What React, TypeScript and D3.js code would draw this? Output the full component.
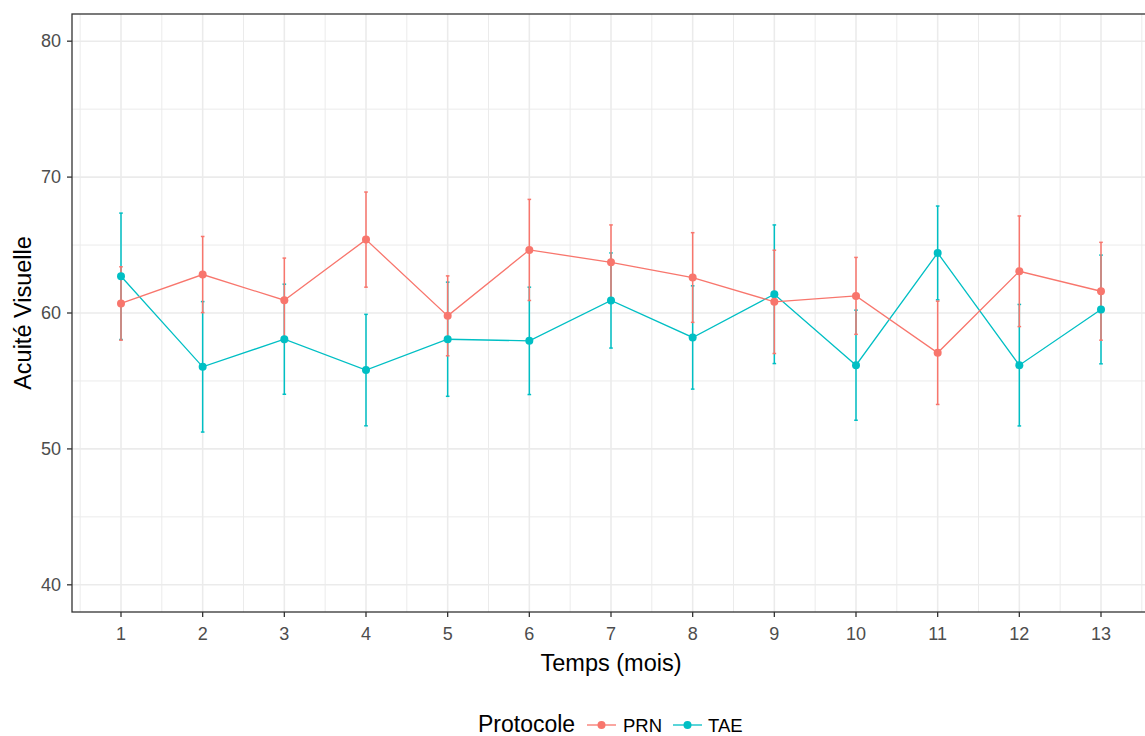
import React from "react";
import * as d3 from "d3";

const months = [1, 2, 3, 4, 5, 6, 7, 8, 9, 10, 11, 12, 13];
const prnMean = [60.7, 62.83, 60.94, 65.4, 59.79, 64.64, 63.73, 62.61, 60.82, 61.26, 57.07, 63.07, 61.6];
const prnErr = [2.7, 2.8, 3.1, 3.5, 2.94, 3.72, 2.75, 3.3, 3.8, 2.83, 3.8, 4.07, 3.6];
const taeMean = [62.7, 56.04, 58.07, 55.8, 58.07, 57.95, 60.92, 58.2, 61.38, 56.16, 64.42, 56.16, 60.26];
const taeErr = [4.65, 4.8, 4.05, 4.1, 4.2, 3.95, 3.5, 3.8, 5.1, 4.05, 3.45, 4.47, 4.0];
const yTicks = [40, 50, 60, 70, 80];
const yMinor = [45, 55, 65, 75];
const seriesNames = ["PRN", "TAE"];
const seriesColors = ["#F8766D", "#00BFC4"];

const W = 1145;
const H = 736;
const panel = { left: 72, right: 1150, top: 14, bottom: 612 };
const FONT = "'Liberation Sans', Arial, sans-serif";

export default function App() {
  const x = d3.scaleLinear().domain([0.4, 13.6]).range([panel.left, panel.right]);
  const y = d3.scaleLinear().domain([38, 82]).range([panel.bottom, panel.top]);
  const xMinor = months.map((m) => m - 0.5).concat([13.5]);

  const series = [
    { name: seriesNames[0], color: seriesColors[0], mean: prnMean, err: prnErr },
    { name: seriesNames[1], color: seriesColors[1], mean: taeMean, err: taeErr },
  ];
  const drawOrder = [series[1], series[0]];

  const line = d3
    .line<number>()
    .x((_, i) => x(months[i]))
    .y((d) => y(d));

  const cap = 1.8;

  return (
    <svg
      width={W}
      height={H}
      style={{ position: "absolute", left: 0, top: 0, background: "#fff" }}
      fontFamily={FONT}
    >
      <rect x={0} y={0} width={W} height={H} fill="#fff" />
      {/* grid */}
      <g>
        {yMinor.map((v) => (
          <line key={"ym" + v} x1={panel.left} x2={panel.right} y1={y(v)} y2={y(v)} stroke="#EBEBEB" strokeWidth={1} />
        ))}
        {xMinor.map((v) => (
          <line key={"xm" + v} y1={panel.top} y2={panel.bottom} x1={x(v)} x2={x(v)} stroke="#EBEBEB" strokeWidth={1} />
        ))}
        {yTicks.map((v) => (
          <line key={"yM" + v} x1={panel.left} x2={panel.right} y1={y(v)} y2={y(v)} stroke="#EBEBEB" strokeWidth={1.6} />
        ))}
        {months.map((v) => (
          <line key={"xM" + v} y1={panel.top} y2={panel.bottom} x1={x(v)} x2={x(v)} stroke="#EBEBEB" strokeWidth={1.6} />
        ))}
      </g>
      {/* error bars */}
      {drawOrder.map((s) => (
        <g key={"eb" + s.name} stroke={s.color} strokeWidth={1.5}>
          {months.map((m, i) => {
            const cx = x(m);
            const lo = y(s.mean[i] - s.err[i]);
            const hi = y(s.mean[i] + s.err[i]);
            return (
              <g key={m}>
                <line x1={cx} x2={cx} y1={lo} y2={hi} />
                <line x1={cx - cap} x2={cx + cap} y1={lo} y2={lo} />
                <line x1={cx - cap} x2={cx + cap} y1={hi} y2={hi} />
              </g>
            );
          })}
        </g>
      ))}
      {/* lines */}
      {drawOrder.map((s) => (
        <path key={"ln" + s.name} d={line(s.mean) || ""} fill="none" stroke={s.color} strokeWidth={1.3} />
      ))}
      {/* points */}
      {drawOrder.map((s) => (
        <g key={"pt" + s.name} fill={s.color}>
          {months.map((m, i) => (
            <circle key={m} cx={x(m)} cy={y(s.mean[i])} r={4} />
          ))}
        </g>
      ))}
      {/* panel border */}
      <rect
        x={panel.left}
        y={panel.top}
        width={panel.right - panel.left}
        height={panel.bottom - panel.top}
        fill="none"
        stroke="#333333"
        strokeWidth={1.3}
      />
      {/* y axis */}
      <g>
        {yTicks.map((v) => (
          <g key={"yt" + v}>
            <line x1={panel.left - 5} x2={panel.left} y1={y(v)} y2={y(v)} stroke="#333333" strokeWidth={1.3} />
            <text x={panel.left - 11} y={y(v)} dy="0.35em" textAnchor="end" fontSize={18} fill="#4D4D4D">
              {v}
            </text>
          </g>
        ))}
      </g>
      {/* x axis */}
      <g>
        {months.map((v) => (
          <g key={"xt" + v}>
            <line x1={x(v)} x2={x(v)} y1={panel.bottom} y2={panel.bottom + 5} stroke="#333333" strokeWidth={1.3} />
            <text x={x(v)} y={640} textAnchor="middle" fontSize={18} fill="#4D4D4D">
              {v}
            </text>
          </g>
        ))}
      </g>
      {/* titles */}
      <text x={611} y={671} textAnchor="middle" fontSize={23.5} fill="#000">
        Temps (mois)
      </text>
      <text
        transform={`translate(31, ${(panel.top + panel.bottom) / 2}) rotate(-90)`}
        textAnchor="middle"
        fontSize={23.5}
        fill="#000"
      >
        Acuité Visuelle
      </text>
      {/* legend */}
      <g>
        <text x={478} y={732} fontSize={23} fill="#000">
          Protocole
        </text>
        {series.map((s, i) => {
          const kx = i === 0 ? 587 : 673;
          const tx = i === 0 ? 623 : 708;
          return (
            <g key={"lg" + s.name}>
              <line x1={kx} x2={kx + 29} y1={725} y2={725} stroke={s.color} strokeWidth={1.3} />
              <circle cx={kx + 14.5} cy={725} r={4} fill={s.color} />
              <text x={tx} y={732} fontSize={18.5} fill="#000">
                {s.name}
              </text>
            </g>
          );
        })}
      </g>
    </svg>
  );
}
